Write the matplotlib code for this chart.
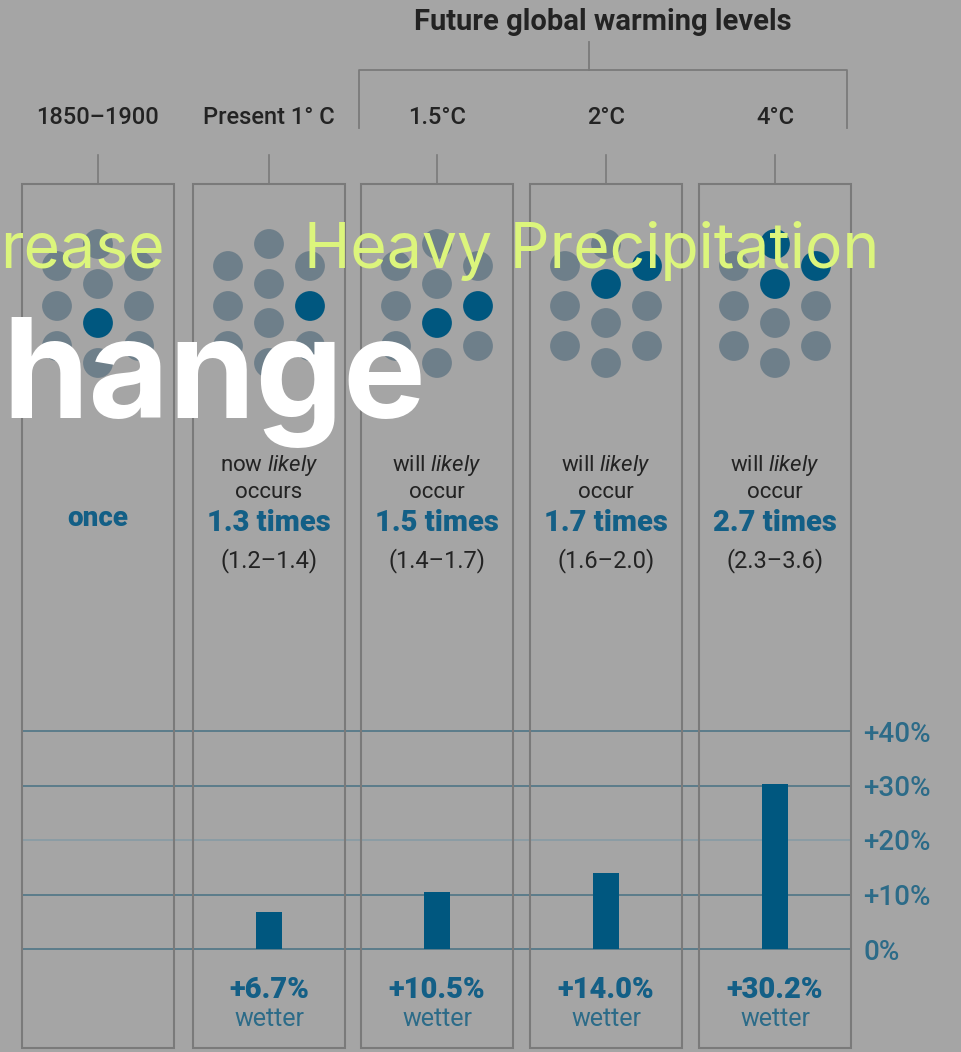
import matplotlib.pyplot as plt
from matplotlib.patches import Rectangle

# данные
periods = ["1850–1900", "Present 1° C", "1.5°C", "2°C", "4°C"]
line1 = ["", "now $\\it{likely}$", "will $\\it{likely}$", "will $\\it{likely}$", "will $\\it{likely}$"]
line2 = ["", "occurs", "occur", "occur", "occur"]
times = ["once", "1.3 times", "1.5 times", "1.7 times", "2.7 times"]
ranges = ["", "(1.2–1.4)", "(1.4–1.7)", "(1.6–2.0)", "(2.3–3.6)"]
dark_dots = [[6], [5], [5, 6], [2, 3], [0, 2, 3]]
wetter = [None, 6.7, 10.5, 14.0, 30.2]
wetter_labels = ["", "+6.7%", "+10.5%", "+14.0%", "+30.2%"]
y_ticks = [0, 10, 20, 30, 40]
y_tick_labels = ["0%", "+10%", "+20%", "+30%", "+40%"]

# оформление
BG = '#a5a5a5'
EDGE = '#7a7a7a'
DARK = '#00577f'
GREYDOT = '#6e7f8a'
BLUE_TXT = '#135f86'
TICK_TXT = '#2c6b88'
TXT = '#232323'

W, H = 961, 1052
panel_left = [22, 193, 361, 530, 699]
panel_w = 152
centers = [l + panel_w / 2 for l in panel_left]
# раскладка точек (смещения от центра панели)
dot_dx = [0, -41, 41, 0, -41, 41, 0, -41, 41, 0]
dot_y = [244, 266, 266, 284, 306, 306, 323, 346, 346, 363]

plt.rcParams['font.family'] = ['Roboto', 'DejaVu Sans']
plt.rcParams['mathtext.fontset'] = 'custom'
plt.rcParams['mathtext.rm'] = 'Roboto'
plt.rcParams['mathtext.it'] = 'Roboto:italic'

fig = plt.figure(figsize=(W / 100, H / 100), dpi=100, facecolor=BG)

# гистограмма
axb = fig.add_axes([22 / W, (H - 949) / H, (851 - 22) / W, (949 - 731) / H])
axb.set_facecolor('none')
axb.set_xlim(22, 851)
axb.set_ylim(0, 40)
for v in y_ticks:
    axb.axhline(v, color='#5b7c8b' if v != 20 else '#8b9ca4', lw=1.4, zorder=1, clip_on=False)
xs = [c for c, v in zip(centers, wetter) if v is not None]
vals = [v for v in wetter if v is not None]
axb.bar(xs, vals, width=26, color=DARK, zorder=3)
for s in axb.spines.values():
    s.set_visible(False)
axb.set_xticks([])
axb.yaxis.tick_right()
axb.set_yticks(y_ticks)
axb.set_yticklabels(y_tick_labels, color=TICK_TXT, fontsize=20, fontweight='medium')
axb.tick_params(axis='y', length=0, pad=9)

# основная разметка в пикселях
ax = fig.add_axes([0, 0, 1, 1])
ax.set_xlim(0, W)
ax.set_ylim(H, 0)
ax.axis('off')
ax.patch.set_alpha(0)

for i, (l, c) in enumerate(zip(panel_left, centers)):
    ax.add_patch(Rectangle((l, 184), panel_w, 1048 - 184, fill=False, ec=EDGE, lw=1.5))
    ax.plot([c, c], [155, 184], color=EDGE, lw=1.2)
    ax.text(c, 117, periods[i], ha='center', va='center', fontsize=17,
            fontweight='medium', color=TXT)
    cols = [DARK if k in dark_dots[i] else GREYDOT for k in range(10)]
    ax.scatter([c + dx for dx in dot_dx], dot_y, s=460, c=cols, linewidths=0, zorder=3)
    ax.text(c, 466, line1[i], ha='center', va='center', fontsize=16, color=TXT)
    ax.text(c, 493, line2[i], ha='center', va='center', fontsize=16, color=TXT)
    ax.text(c, 523 if i else 519, times[i], ha='center', va='center',
            fontsize=21 if i else 20, fontweight='heavy', color=BLUE_TXT)
    ax.text(c, 561, ranges[i], ha='center', va='center', fontsize=17, color=TXT)
    ax.text(c, 990, wetter_labels[i], ha='center', va='center', fontsize=21,
            fontweight='heavy', color=BLUE_TXT)
    if i:
        ax.text(c, 1019, "wetter", ha='center', va='center', fontsize=18, color=TICK_TXT)

# скобка над будущими уровнями
ax.plot([359, 359, 847, 847], [128, 70, 70, 128], color=EDGE, lw=1.3)
ax.plot([589, 589], [42, 70], color=EDGE, lw=1.3)
ax.text(603, 22, "Future global warming levels", ha='center', va='center',
        fontsize=21, fontweight='bold', color=TXT)

# наложенные надписи
ax.text(0, 268, "rease", ha='left', va='baseline', fontsize=45,
        fontfamily=['Inter', 'DejaVu Sans'], color='#dcf57c', zorder=5)
ax.text(304, 268, "Heavy Precipitation", ha='left', va='baseline', fontsize=45,
        fontfamily=['Inter', 'DejaVu Sans'], color='#dcf57c', zorder=5)
ax.text(2, 418, "hange", ha='left', va='baseline', fontsize=100,
        fontfamily=['Inter', 'DejaVu Sans'], fontweight='bold', color='white', zorder=5)

fig.savefig("out.png", dpi=100, facecolor=BG)
